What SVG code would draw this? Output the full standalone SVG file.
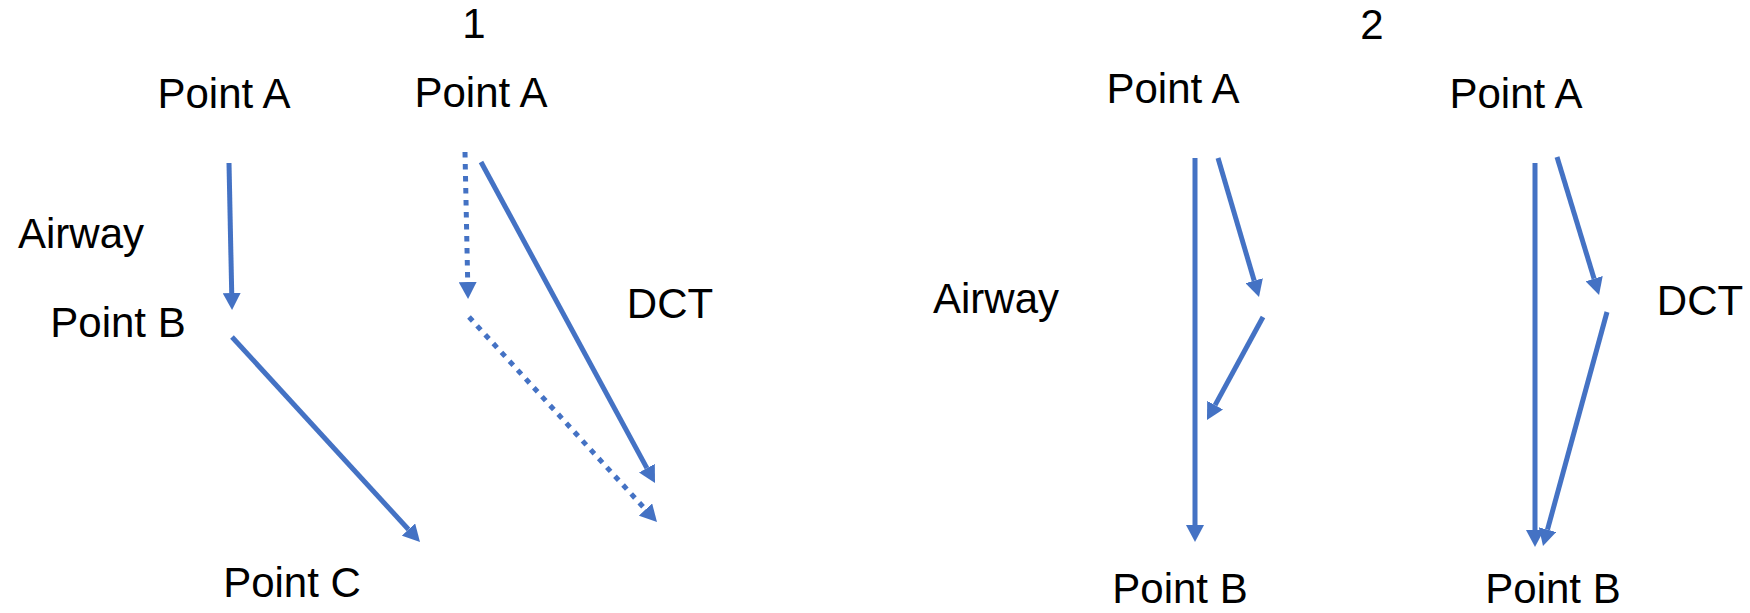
<svg xmlns="http://www.w3.org/2000/svg" width="1750" height="613" viewBox="0 0 1750 613">
  <style>
    .lbl { font-family: "Liberation Sans", Arial, sans-serif; font-size: 42px; fill: #000; text-anchor: middle; }
    .edge { fill: none; stroke: #4472C4; stroke-width: 5; marker-end: url(#head); }
    .dot { stroke-dasharray: 5.5 6.5; }
  </style>
  <defs>
    <!-- arrowhead: base sits on the path end, tip extends 17px forward -->
    <marker id="head" viewBox="0 0 17 18" refX="0" refY="9" markerWidth="17" markerHeight="18" markerUnits="userSpaceOnUse" orient="auto">
      <path d="M0,0 L17,9 L0,18 Z" fill="#4472C4"/>
    </marker>
  </defs>
  <rect width="1750" height="613" fill="#fff"/>

  <!-- section titles -->
  <g id="title-1"><text class="lbl" x="474" y="38">1</text></g>
  <g id="title-2"><text class="lbl" x="1372" y="39">2</text></g>

  <!-- case 1 -->
  <g id="c1-point-a"><text class="lbl" x="224" y="108">Point A</text></g>
  <g id="c1-airway"><text class="lbl" x="81" y="248">Airway</text></g>
  <g id="c1-point-b"><text class="lbl" x="118" y="337">Point B</text></g>
  <g id="c1-point-c"><text class="lbl" x="292" y="597">Point C</text></g>
  <g id="c1-dct-point-a"><text class="lbl" x="481" y="107">Point A</text></g>
  <g id="c1-dct"><text class="lbl" x="670" y="318">DCT</text></g>

  <!-- case 2 -->
  <g id="c2-airway-point-a"><text class="lbl" x="1173" y="103">Point A</text></g>
  <g id="c2-airway"><text class="lbl" x="996" y="313">Airway</text></g>
  <g id="c2-airway-point-b"><text class="lbl" x="1180" y="603">Point B</text></g>
  <g id="c2-dct-point-a"><text class="lbl" x="1516" y="108">Point A</text></g>
  <g id="c2-dct"><text class="lbl" x="1700" y="315">DCT</text></g>
  <g id="c2-dct-point-b"><text class="lbl" x="1553" y="603">Point B</text></g>

  <g id="connectors">
    <!-- case 1: airway route A -> B -> C -->
    <path class="edge" d="M229 163 L231.7 293"/>
    <path class="edge" d="M232 337 L408.5 529.5"/>
    <!-- case 1: dotted airway route and direct DCT -->
    <path class="edge dot" d="M465 152 L467.7 282"/>
    <path class="edge dot" d="M469 317 L645.5 509.5"/>
    <path class="edge" d="M481 162 L646.9 468.1"/>

    <!-- case 2: airway -->
    <path class="edge" d="M1195 158 L1195 525"/>
    <path class="edge" d="M1218 158 L1254.2 280.7"/>
    <path class="edge" d="M1263 317 L1215.1 405.1"/>

    <!-- case 2: DCT -->
    <path class="edge" d="M1535 163 L1535 530"/>
    <path class="edge" d="M1557 157 L1594.1 278.7"/>
    <path class="edge" d="M1607 312 L1547.5 529.6"/>
  </g>
</svg>
